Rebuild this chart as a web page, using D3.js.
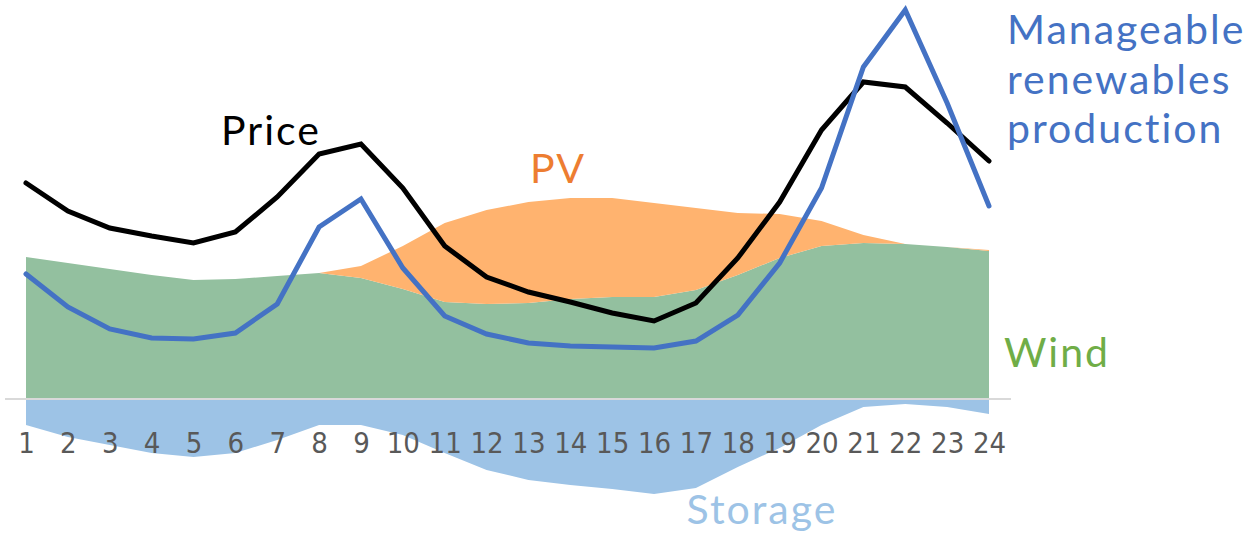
<!DOCTYPE html>
<html>
<head>
<meta charset="utf-8">
<script src="https://cdn.jsdelivr.net/npm/d3@7"></script>
<style>
  html, body { margin: 0; padding: 0; background: #fff; }
  svg { display: block; }
</style>
</head>
<body>
<div id="chart"></div>
<script>
// hourly values (arbitrary units, 0 = axis line)
var hours = [1, 2, 3, 4, 5, 6, 7, 8, 9, 10, 11, 12, 13, 14, 15, 16, 17, 18, 19, 20, 21, 22, 23, 24];
var wind = [142, 136, 130, 124, 119, 120, 123, 126, 121, 110, 97, 95, 96, 100, 102, 102, 109, 124, 141, 153, 156, 155, 152, 148];
var pv = [0, 0, 0, 0, 0, 0, 0, 0, 12, 43, 79, 94, 101, 101, 99, 94, 82, 62, 44, 25, 8, 0, 0, 1];
var storage = [-26, -38, -46, -54, -58, -54, -41, -26, -26, -36, -54, -71, -81, -86, -90, -95, -89, -68, -49, -26, -8, -5, -8, -15];
var price = [216, 188, 171, 163, 156, 167, 202, 245, 255, 211, 153, 122, 107, 97, 86, 78, 96, 141, 197, 269, 317, 312, 276, 238];
var manageable = [125, 92, 70, 61, 60, 66, 95, 172, 200, 131, 83, 65, 56, 53, 52, 51, 58, 84, 136, 211, 332, 389, 296, 193];
var manageableLabel = ['Manageable', 'renewables', 'production'];

var width = 1256;
var height = 535;

var x = d3.scalePoint()
    .domain(hours)
    .range([26, 989]);

var y = d3.scaleLinear()
    .domain([-136, 399])
    .range([535, 0]);

var svg = d3.select('#chart')
    .append('svg')
    .attr('width', width)
    .attr('height', height);

// stacked wind + pv
var rows = hours.map(function(h, i) {
    return {hour: h, wind: wind[i], pv: pv[i]};
});
var stacked = d3.stack().keys(['wind', 'pv'])(rows);
var fills = {wind: '#93c09f', pv: '#ffb36f'};

var area = d3.area()
    .x(function(d) { return x(d.data.hour); })
    .y0(function(d) { return y(d[0]); })
    .y1(function(d) { return y(d[1]); });

svg.selectAll('.layer')
    .data(stacked)
    .enter().append('path')
    .attr('class', 'layer')
    .attr('d', area)
    .style('fill', function(d) { return fills[d.key]; });

// storage below the line
var storageArea = d3.area()
    .x(function(d, i) { return x(hours[i]); })
    .y0(y(0))
    .y1(function(d) { return y(d); });

svg.append('path')
    .attr('d', storageArea(storage))
    .style('fill', '#9dc3e6');

// zero line
svg.append('line')
    .attr('x1', 5)
    .attr('x2', 1011)
    .attr('y1', y(0))
    .attr('y2', y(0))
    .style('stroke', '#d9d9d9')
    .style('stroke-width', '2px');

var line = d3.line()
    .x(function(d, i) { return x(hours[i]); })
    .y(function(d) { return y(d); });

svg.append('path')
    .attr('d', line(price))
    .style('fill', 'none')
    .style('stroke', '#000')
    .style('stroke-width', '5px')
    .style('stroke-linecap', 'round');

svg.append('path')
    .attr('d', line(manageable))
    .style('fill', 'none')
    .style('stroke', '#4472c4')
    .style('stroke-width', '5px')
    .style('stroke-linecap', 'round');

// hour labels
var axis = svg.append('g')
    .attr('transform', 'translate(0,' + y(0) + ')')
    .call(d3.axisBottom(x).tickSize(0).tickPadding(0));
axis.select('.domain').remove();
axis.selectAll('text')
    .attr('y', 54)
    .attr('dy', 0)
    .style('font-family', '"Liberation Sans Narrow", "DejaVu Sans Condensed", sans-serif')
    .style('font-size', '29px')
    .style('fill', '#595959');

// series labels (y = baseline)
function label(txt, lx, ly, colour, anchor) {
    return svg.append('text')
        .attr('x', lx)
        .attr('y', ly)
        .attr('text-anchor', anchor)
        .style('font-family', 'Lato, sans-serif')
        .style('font-size', '41px')
        .style('letter-spacing', '2px')
        .style('fill', colour)
        .text(txt);
}
label('Price', 271, 145, '#000', 'middle');
label('PV', 558, 183, '#ed7d31', 'middle');
label('Wind', 1004, 367, '#70ad47', 'start');
label('Storage', 762, 524, '#9dc3e6', 'middle');

manageableLabel.forEach(function(t, i) {
    label(t, 1007, 44 + i * 49.5, '#4472c4', 'start');
});
</script>
</body>
</html>
